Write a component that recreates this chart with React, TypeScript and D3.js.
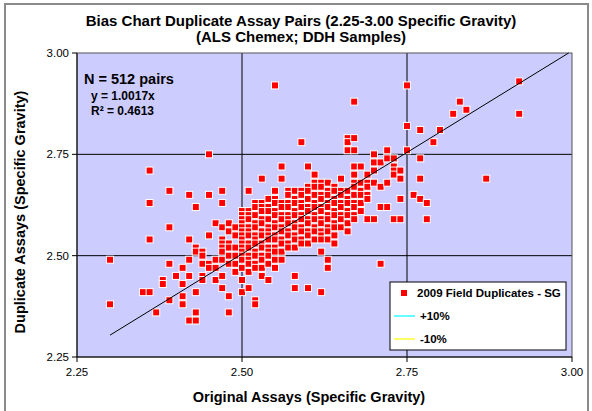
import React from "react";
import * as d3 from "d3";

// Original SG value (x) and duplicate SG values read at that x
const sgColumns: [number, number[]][] = [
  [2.30, [2.49, 2.38]],
  [2.35, [2.41]],
  [2.36, [2.71, 2.63, 2.54, 2.41]],
  [2.37, [2.36]],
  [2.38, [2.44, 2.43]],
  [2.39, [2.66, 2.57, 2.48, 2.39]],
  [2.40, [2.45]],
  [2.41, [2.47, 2.43, 2.40, 2.38]],
  [2.42, [2.65, 2.54, 2.49, 2.45, 2.34]],
  [2.43, [2.62, 2.52, 2.51, 2.41, 2.36, 2.34]],
  [2.44, [2.51, 2.50, 2.48, 2.45, 2.44]],
  [2.45, [2.75, 2.65, 2.55, 2.48, 2.47]],
  [2.46, [2.58, 2.49, 2.47, 2.44]],
  [2.47, [2.66, 2.63, 2.57, 2.54, 2.53, 2.52, 2.51, 2.49, 2.45, 2.42]],
  [2.48, [2.58, 2.56, 2.53, 2.52, 2.50, 2.48, 2.40, 2.36]],
  [2.49, [2.57, 2.55, 2.52, 2.50, 2.48, 2.46]],
  [2.50, [2.61, 2.60, 2.59, 2.58, 2.57, 2.56, 2.55, 2.54, 2.53, 2.52, 2.51, 2.50, 2.49, 2.47, 2.44, 2.41]],
  [2.51, [2.66, 2.61, 2.60, 2.59, 2.57, 2.56, 2.55, 2.53, 2.52, 2.50, 2.49, 2.48, 2.46, 2.42]],
  [2.52, [2.63, 2.62, 2.60, 2.58, 2.57, 2.55, 2.54, 2.53, 2.51, 2.50, 2.48, 2.47, 2.39, 2.38]],
  [2.53, [2.69, 2.63, 2.62, 2.61, 2.59, 2.58, 2.56, 2.55, 2.53, 2.52, 2.50, 2.49, 2.47, 2.45]],
  [2.54, [2.64, 2.62, 2.61, 2.59, 2.57, 2.56, 2.55, 2.54, 2.52, 2.51, 2.50, 2.48, 2.44]],
  [2.55, [2.92, 2.66, 2.64, 2.63, 2.61, 2.60, 2.58, 2.57, 2.55, 2.54, 2.52, 2.51, 2.49, 2.47]],
  [2.56, [2.72, 2.69, 2.63, 2.62, 2.60, 2.59, 2.57, 2.56, 2.54, 2.53, 2.51, 2.49]],
  [2.57, [2.66, 2.65, 2.63, 2.62, 2.60, 2.59, 2.58, 2.56, 2.55, 2.53, 2.52]],
  [2.58, [2.66, 2.64, 2.63, 2.61, 2.60, 2.58, 2.57, 2.55, 2.54, 2.52, 2.45, 2.42]],
  [2.59, [2.78, 2.66, 2.65, 2.63, 2.62, 2.60, 2.59, 2.57, 2.56, 2.54, 2.53]],
  [2.60, [2.72, 2.67, 2.66, 2.64, 2.62, 2.61, 2.59, 2.58, 2.56, 2.55, 2.53, 2.42]],
  [2.61, [2.70, 2.68, 2.67, 2.65, 2.63, 2.62, 2.60, 2.59, 2.57, 2.56, 2.54]],
  [2.62, [2.68, 2.67, 2.65, 2.64, 2.62, 2.61, 2.59, 2.58, 2.56, 2.55, 2.54, 2.51, 2.41]],
  [2.63, [2.68, 2.66, 2.65, 2.63, 2.62, 2.60, 2.59, 2.57, 2.56, 2.54, 2.49, 2.47]],
  [2.64, [2.67, 2.66, 2.64, 2.63, 2.61, 2.60, 2.58, 2.57, 2.55, 2.53]],
  [2.65, [2.69, 2.66, 2.65, 2.63, 2.62, 2.60, 2.59, 2.57]],
  [2.66, [2.79, 2.78, 2.76, 2.66, 2.64, 2.63, 2.61, 2.60, 2.58, 2.56]],
  [2.67, [2.88, 2.79, 2.76, 2.72, 2.70, 2.68, 2.67, 2.65, 2.63, 2.62, 2.60, 2.59]],
  [2.68, [2.72, 2.68, 2.66, 2.65, 2.63, 2.61]],
  [2.69, [2.70, 2.68, 2.67, 2.65, 2.64, 2.59]],
  [2.70, [2.75, 2.73, 2.71, 2.68, 2.59]],
  [2.71, [2.73, 2.67, 2.62, 2.48]],
  [2.72, [2.76, 2.74, 2.68, 2.62]],
  [2.73, [2.74, 2.72, 2.71, 2.70, 2.59]],
  [2.74, [2.71, 2.69, 2.64, 2.59]],
  [2.75, [2.92, 2.82, 2.76]],
  [2.76, [2.65]],
  [2.77, [2.81, 2.74, 2.69, 2.64]],
  [2.78, [2.63, 2.59]],
  [2.79, [2.78]],
  [2.80, [2.81]],
  [2.82, [2.85]],
  [2.83, [2.88]],
  [2.84, [2.86]],
  [2.87, [2.69]],
  [2.92, [2.93, 2.85]],
];

const xTicks = [2.25, 2.5, 2.75, 3.0];
const yTicks = [2.25, 2.5, 2.75, 3.0];
const slope = 1.0017;
const fitRange = [2.30, 2.995];
const titleLines = [
  "Bias Chart Duplicate Assay Pairs (2.25-3.00 Specific Gravity)",
  "(ALS Chemex; DDH Samples)",
];
const statLines = ["N = 512 pairs", "y = 1.0017x", "R\u00B2 = 0.4613"];
const legendItems = ["2009 Field Duplicates - SG", "+10%", "-10%"];
const xTitle = "Original Assays (Specific Gravity)";
const yTitle = "Duplicate Assays (Specific Gravity)";

const FONT = "'Liberation Sans', Arial, sans-serif";

export default function App() {
  const W = 592, H = 411;
  const L = 77, R = 572, T = 53, B = 357;
  const x = d3.scaleLinear().domain([2.25, 3.0]).range([L, R]);
  const y = d3.scaleLinear().domain([2.25, 3.0]).range([B, T]);
  const points = sgColumns.flatMap(([xv, ys]) => ys.map((yv) => [xv, yv]));
  const fitLine = d3.line<number>().x((v) => x(v)).y((v) => y(v * slope));
  const ms = 7;

  return (
    <svg width={W} height={H} style={{ position: "absolute", left: 0, top: 0 }} fontFamily={FONT}>
      <rect x={0} y={0} width={W} height={H} fill="#fff" />
      <rect x={5} y={4} width={583} height={420} fill="#fff" stroke="#8a8a8a" strokeWidth={2} />
      {titleLines.map((t, i) => (
        <text key={t} x={301} y={26 + i * 16} textAnchor="middle" fontWeight="bold" fontSize={15} fill="#000">
          {t}
        </text>
      ))}
      <rect x={L} y={T} width={R - L} height={B - T} fill="#ccccff" />
      {[2.5, 2.75].map((v) => (
        <g key={v}>
          <line x1={x(v)} x2={x(v)} y1={T} y2={B} stroke="#000" strokeWidth={1} />
          <line x1={L} x2={R} y1={y(v)} y2={y(v)} stroke="#000" strokeWidth={1} />
        </g>
      ))}
      <rect x={L} y={T} width={R - L} height={B - T} fill="none" stroke="#555" strokeWidth={1} />
      {yTicks.map((v) => (
        <g key={"y" + v}>
          <line x1={L - 5} x2={L} y1={y(v)} y2={y(v)} stroke="#000" />
          <text x={L - 8} y={y(v) + 4} textAnchor="end" fontSize={11.5} fill="#000">
            {v.toFixed(2)}
          </text>
        </g>
      ))}
      {xTicks.map((v) => (
        <g key={"x" + v}>
          <line x1={x(v)} x2={x(v)} y1={B} y2={B + 5} stroke="#000" />
          <text x={x(v)} y={B + 19} textAnchor="middle" fontSize={11.5} fill="#000">
            {v.toFixed(2)}
          </text>
        </g>
      ))}
      <line x1={L} x2={R} y1={B} y2={B} stroke="#000" />
      <line x1={L} x2={L} y1={T} y2={B} stroke="#000" />
      <g>
        {points.map(([xv, yv], i) => (
          <rect key={i} x={x(xv) - ms / 2} y={y(yv) - ms / 2} width={ms} height={ms} fill="#ff0000" stroke="#fff" strokeWidth={1} />
        ))}
      </g>
      <path d={fitLine(fitRange) || ""} fill="none" stroke="#000" strokeWidth={1} />
      <text x={84} y={84} fontSize={14.5} fontWeight="bold" fill="#000">{statLines[0]}</text>
      <text x={91} y={100} fontSize={12} fontWeight="bold" fill="#000">{statLines[1]}</text>
      <text x={91} y={115} fontSize={12} fontWeight="bold" fill="#000">{statLines[2]}</text>
      <g>
        <rect x={390} y={282} width={176} height={68} fill="#fff" stroke="#000" strokeWidth={1} />
        <rect x={401} y={290} width={6} height={6} fill="#ff0000" />
        <text x={417} y={297} fontSize={11.5} fontWeight="bold" fill="#000">{legendItems[0]}</text>
        <line x1={394} x2={415} y1={316} y2={316} stroke="#00ffff" strokeWidth={1.2} />
        <text x={420} y={320} fontSize={11.5} fontWeight="bold" fill="#000">{legendItems[1]}</text>
        <line x1={394} x2={415} y1={339} y2={339} stroke="#ffff00" strokeWidth={1.2} />
        <text x={420} y={343} fontSize={11.5} fontWeight="bold" fill="#000">{legendItems[2]}</text>
      </g>
      <text x={309} y={402} textAnchor="middle" fontSize={14.5} fontWeight="bold" fill="#000">
        {xTitle}
      </text>
      <text transform={`translate(25, 212) rotate(-90)`} textAnchor="middle" fontSize={14.5} fontWeight="bold" fill="#000">
        {yTitle}
      </text>
    </svg>
  );
}
